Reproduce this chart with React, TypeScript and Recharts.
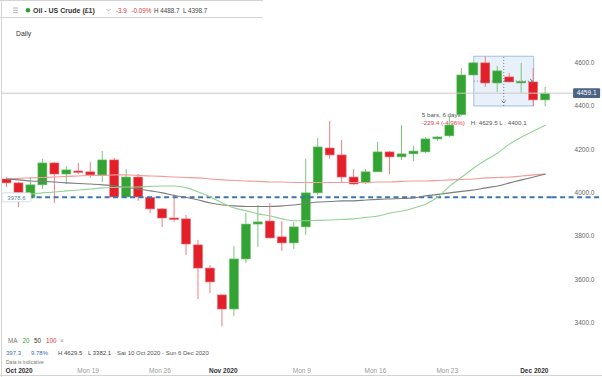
import React from 'react';
import { ComposedChart, Bar, Line, XAxis, YAxis, ReferenceLine, ReferenceArea } from 'recharts';

// daily candles, Sun-Fri sessions
const dates = [
  '2020-10-12', '2020-10-13', '2020-10-14', '2020-10-15', '2020-10-16', '2020-10-18',
  '2020-10-19', '2020-10-20', '2020-10-21', '2020-10-22', '2020-10-23', '2020-10-25',
  '2020-10-26', '2020-10-27', '2020-10-28', '2020-10-29', '2020-10-30', '2020-11-01',
  '2020-11-02', '2020-11-03', '2020-11-04', '2020-11-05', '2020-11-06', '2020-11-08',
  '2020-11-09', '2020-11-10', '2020-11-11', '2020-11-12', '2020-11-13', '2020-11-15',
  '2020-11-16', '2020-11-17', '2020-11-18', '2020-11-19', '2020-11-20', '2020-11-22',
  '2020-11-23', '2020-11-24', '2020-11-25', '2020-11-26', '2020-11-27', '2020-11-29',
  '2020-11-30', '2020-12-01', '2020-12-02', '2020-12-03',
];
const open = [
  4063, 4045, 3976, 4036, 4137, 4086, 4100, 4096, 4082, 4151, 3980, 4072, 3978, 3925, 3883, 3879,
  3759, 3652, 3528, 3463, 3694, 3855, 3869, 3796, 3768, 3842, 3999, 4206, 4174, 4072, 4045, 4096,
  4188, 4165, 4179, 4188, 4248, 4262, 4360, 4543, 4599, 4506, 4534, 4509, 4511, 4428,
];
const close = [
  4045, 3999, 4036, 4137, 4086, 4105, 4096, 4082, 4151, 3980, 4072, 3980, 3925, 3883, 3879, 3763,
  3652, 3588, 3463, 3694, 3855, 3865, 3791, 3768, 3842, 3999, 4211, 4174, 4072, 4040, 4096, 4188,
  4165, 4179, 4192, 4248, 4257, 4312, 4543, 4599, 4506, 4562, 4511, 4513, 4428, 4459.1,
];
const high = [
  4072, 4050, 4072, 4156, 4142, 4123, 4137, 4142, 4192, 4160, 4109, 4086, 3980, 3928, 3992, 3897,
  3782, 3666, 3530, 3754, 3906, 3943, 3952, 3869, 3865, 4156, 4252, 4331, 4243, 4109, 4109, 4234,
  4192, 4312, 4216, 4257, 4262, 4349, 4575, 4603, 4629.5, 4585, 4553, 4599, 4575, 4488.7,
];
const low = [
  4026, 3934, 3971, 4017, 3952, 4040, 4086, 4068, 4049, 3978, 3978, 3962, 3906, 3842, 3865, 3712,
  3509, 3537, 3382.1, 3431, 3676, 3749, 3788, 3731, 3740, 3805, 3989, 4156, 4045, 4036, 4040, 4096,
  4086, 4151, 4145, 4183, 4239, 4257, 4355, 4540, 4488, 4465, 4508, 4460, 4400.1, 4398.7,
];
const ma20 = [
  null, null, 3994, 3999, 4003, 4008, 4012, 4017, 4022, 4024, 4026, 4026, 4029, 4031, 4031, 4022,
  4003, 3980, 3952, 3929, 3916, 3902, 3892, 3879, 3870, 3870, 3872, 3874, 3876, 3879, 3886, 3892,
  3906, 3915, 3929, 3948, 3980, 4031, 4072, 4114, 4151, 4183, 4225, 4257, 4285, 4312,
];
const ma50 = [
  4063, 4059, 4054, 4052, 4049, 4045, 4042, 4040, 4036, 4031, 4024, 4017, 4008, 3999, 3987, 3978,
  3966, 3952, 3943, 3939, 3936, 3936, 3936, 3939, 3943, 3950, 3957, 3959, 3962, 3962, 3966, 3969,
  3971, 3973, 3976, 3985, 3992, 3999, 4006, 4012, 4022, 4031, 4045, 4059, 4072, 4086,
];
const ma100 = [
  4063, 4066, 4068, 4070, 4072, 4075, 4077, 4079, 4079, 4082, 4082, 4079, 4077, 4075, 4072, 4070,
  4068, 4063, 4059, 4056, 4054, 4052, 4049, 4049, 4047, 4047, 4047, 4047, 4047, 4047, 4047, 4049,
  4049, 4052, 4054, 4054, 4056, 4059, 4061, 4063, 4068, 4070, 4072, 4077, 4082, 4086,
];

const tickDates = ['2020-10-12', '2020-10-19', '2020-10-26', '2020-11-01', '2020-11-09', '2020-11-16', '2020-11-23', '2020-12-01'];
const tickLabels = ['Oct 2020', 'Mon 19', 'Mon 26', 'Nov 2020', 'Mon 9', 'Mon 16', 'Mon 23', 'Dec 2020'];
const yTicks = [3400, 3600, 3800, 4000, 4200, 4400, 4600];

const lastPrice = 4459.1;
const levelLine = 3978.6;
const measureFrom = '2020-11-26';
const measureTo = '2020-12-02';
const measureHigh = 4629.5;
const measureLow = 4400.1;

const GREEN = '#33a333';
const RED = '#e3202a';
const FONT = '"Liberation Sans", Arial, sans-serif';

const data = dates.map((d, i) => ({
  i,
  date: d,
  open: open[i],
  high: high[i],
  low: low[i],
  close: close[i],
  range: [low[i], high[i]],
  ma20: ma20[i],
  ma50: ma50[i],
  ma100: ma100[i],
}));

const tickIdx = tickDates.map((d) => dates.indexOf(d));
const boxX1 = dates.indexOf(measureFrom);
const boxX2 = dates.indexOf(measureTo);
const boxMidX = (boxX1 + boxX2) / 2;
const boxMidY = (measureHigh + measureLow) / 2;
const boxChange = measureLow - measureHigh;
const boxPct = (boxChange / measureHigh) * 100;
const boxDays = Math.round((Date.parse(measureTo) - Date.parse(measureFrom)) / 86400000);

function Candle(props: any) {
  const { x, y, width, height, payload } = props;
  if (payload == null || height == null) return null;
  const top = Math.min(y, y + height);
  const h = Math.abs(height);
  const { open: o, close: c, high: hi, low: lo } = payload;
  const up = c >= o;
  const k = h / (hi - lo);
  const bodyTop = top + (hi - Math.max(o, c)) * k;
  const bodyH = Math.max(Math.abs(o - c) * k, 1.5);
  const cx = x + width / 2;
  return (
    <g>
      <line x1={cx} x2={cx} y1={top} y2={top + h} stroke={up ? '#7cc57c' : '#ef7d82'} strokeWidth={1} />
      <rect x={x} y={bodyTop} width={width} height={bodyH} fill={up ? GREEN : RED} stroke={up ? '#6fc06f' : '#ee6f75'} strokeWidth={0.6} />
    </g>
  );
}

function DateTick({ x, y, payload }: any) {
  const label = tickLabels[tickIdx.indexOf(payload.value)];
  if (!label) return null;
  const month = !label.startsWith('Mon');
  return (
    <text x={x - 1.5} y={y + 7} fontSize={6.5} fontFamily={FONT} fill={month ? '#333' : '#9a9a9a'} fontWeight={month ? 700 : 400}>
      {label}
    </text>
  );
}

export default function App() {
  return (
    <div style={{ position: 'absolute', left: 0, top: 0, width: 602, height: 377, background: '#fff' }}>
      <ComposedChart width={602} height={377} data={data} margin={{ top: 18, right: 0, bottom: 0, left: 1 }}>
        <XAxis
          dataKey="i"
          type="number"
          domain={[-0.5, dates.length - 0.5]}
          allowDataOverflow
          ticks={tickIdx}
          interval={0}
          tick={<DateTick />}
          tickLine={false}
          axisLine={false}
          tickSize={0}
          tickMargin={0}
          height={11}
        />
        <YAxis
          orientation="right"
          domain={[3200, 4806]}
          allowDataOverflow
          ticks={yTicks}
          interval={0}
          tickFormatter={(v: number) => v.toFixed(1)}
          tick={{ fontSize: 6.5, fill: '#666', fontFamily: FONT }}
          tickLine={false}
          axisLine={false}
          tickSize={0}
          tickMargin={23}
          width={50.4}
        />
        <ReferenceLine
          y={levelLine}
          stroke="#3f74b3"
          strokeWidth={2}
          strokeDasharray="5 3.5"
          label={(p: any) => {
            const vb = p.viewBox;
            return (
              <g>
                <line x1={vb.x + vb.width} x2={602} y1={vb.y} y2={vb.y} stroke="#3f74b3" strokeWidth={2} strokeDasharray="5 3.5" />
                <rect x={vb.x + 1} y={vb.y - 4.5} width={29} height={9} fill="#fff" stroke="#cdd6e2" strokeWidth={0.8} rx={1} />
                <text x={vb.x + 15.5} y={vb.y + 2.3} fontSize={6} fontFamily={FONT} fill="#5b7fa8" textAnchor="middle">
                  {levelLine.toFixed(1)}
                </text>
              </g>
            );
          }}
        />
        <Line dataKey="ma100" type="monotone" stroke="#f29a9a" strokeWidth={1.1} dot={false} isAnimationActive={false} />
        <Line dataKey="ma50" type="monotone" stroke="#7c7c7c" strokeWidth={1.1} dot={false} isAnimationActive={false} />
        <Line dataKey="ma20" type="monotone" stroke="#93d393" strokeWidth={1.1} dot={false} isAnimationActive={false} connectNulls={false} />
        <ReferenceLine
          y={lastPrice}
          stroke="#c9c9c9"
          strokeWidth={1}
          label={(p: any) => {
            const vb = p.viewBox;
            const right = vb.x + vb.width;
            return (
              <g>
                <line x1={right} x2={right + 21.5} y1={vb.y} y2={vb.y} stroke="#c9c9c9" strokeWidth={1} />
                <rect x={right + 21.5} y={vb.y - 4.8} width={27} height={9.6} fill="#4b6483" rx={1} />
                <text x={right + 35} y={vb.y + 2.3} fontSize={6.5} fontFamily={FONT} fill="#fff" textAnchor="middle">
                  {lastPrice.toFixed(1)}
                </text>
              </g>
            );
          }}
        />
        <Bar dataKey="range" barSize={9} isAnimationActive={false} shape={(p: any) => <Candle {...p} />} />
        <ReferenceArea
          x1={boxX1}
          x2={boxX2}
          y1={measureLow}
          y2={measureHigh}
          fill="#bcd6ee"
          fillOpacity={0.35}
          stroke="#9dc0e2"
          strokeWidth={1}
          label={(p: any) => {
            const vb = p.viewBox;
            const bx = vb.x - 52;
            const by = vb.y + vb.height;
            return (
              <g fontFamily={FONT} fontSize={6.2}>
                <rect x={bx - 1} y={by + 4} width={50} height={21} fill="#fff" fillOpacity={0.6} />
                <text x={bx} y={by + 11} fill="#555">{`${boxX2 - boxX1} bars, ${boxDays} days`}</text>
                <text x={bx} y={by + 19} fill="#e0454a">{`${boxChange.toFixed(1)} (${boxPct.toFixed(2)}%)`}</text>
                <text x={bx + 49} y={by + 19} fill="#555">{`H: ${measureHigh.toFixed(1)} L : ${measureLow.toFixed(1)}`}</text>
              </g>
            );
          }}
        />
        <ReferenceLine
          segment={[{ x: boxMidX, y: measureLow }, { x: boxMidX, y: measureHigh }]}
          stroke="#556070"
          strokeWidth={0.8}
          strokeDasharray="1 2"
          label={(p: any) => {
            const vb = p.viewBox;
            const bx = vb.x;
            const by = vb.y + vb.height - 3;
            return <polyline points={`${bx - 2},${by - 2.5} ${bx},${by} ${bx + 2},${by - 2.5}`} fill="none" stroke="#556070" strokeWidth={0.8} />;
          }}
        />
        <ReferenceLine
          segment={[{ x: boxX1, y: boxMidY }, { x: boxX2, y: boxMidY }]}
          stroke="#556070"
          strokeWidth={0.8}
          strokeDasharray="1 2"
          label={(p: any) => {
            const vb = p.viewBox;
            const ex = vb.x + vb.width - 1;
            const ey = vb.y;
            return <polyline points={`${ex - 2.5},${ey - 2} ${ex},${ey} ${ex - 2.5},${ey + 2}`} fill="none" stroke="#556070" strokeWidth={0.8} />;
          }}
        />
      </ComposedChart>
      <svg width={602} height={377} style={{ position: 'absolute', left: 0, top: 0, pointerEvents: 'none' }} fontFamily={FONT}>
        <line x1={1.5} y1={0} x2={1.5} y2={377} stroke="#d4d4d4" />
        <line x1={0} y1={0.5} x2={263} y2={0.5} stroke="#d4d4d4" />
        <line x1={0} y1={17.5} x2={263} y2={17.5} stroke="#d4d4d4" />
        <line x1={0} y1={375.5} x2={602} y2={375.5} stroke="#d4d4d4" />
        <g stroke="#a0a0a0" strokeWidth={0.8}>
          <line x1={13} x2={18} y1={8} y2={8} />
          <line x1={13} x2={18} y1={10.3} y2={10.3} />
          <line x1={13} x2={18} y1={12.6} y2={12.6} />
        </g>
        <circle cx={28} cy={10.2} r={2.3} fill="#2ea02e" />
        <text x={33} y={12.6} fontSize={7} fontWeight={700} fill="#333">Oil - US Crude (£1)</text>
        <polyline points="106.5,9 108.5,11 110.5,9" fill="none" stroke="#aaa" strokeWidth={0.8} />
        <text x={116} y={12.5} fontSize={6.3} fill="#e0353b">-3.9</text>
        <text x={131.5} y={12.5} fontSize={6.3} fill="#e0353b">-0.09%</text>
        <text x={154} y={12.5} fontSize={6.3} fill="#444">H 4488.7</text>
        <text x={183} y={12.5} fontSize={6.3} fill="#444">L 4398.7</text>
        <text x={16} y={36.3} fontSize={6.8} fill="#333">Daily</text>
        <text x={8} y={343} fontSize={6.3} fill="#777">MA</text>
        <text x={22.5} y={343} fontSize={6.3} fill="#3ca53c">20</text>
        <text x={34} y={343} fontSize={6.3} fill="#333">50</text>
        <text x={46} y={343} fontSize={6.3} fill="#e0353b">100</text>
        <text x={60} y={343} fontSize={6.3} fill="#999">×</text>
        <text x={6} y={354.5} fontSize={6} fill="#3a6eb0">397.3</text>
        <text x={31} y={354.5} fontSize={6} fill="#3a6eb0">9.78%</text>
        <text x={58} y={354.5} fontSize={6} fill="#444">H 4629.5</text>
        <text x={88} y={354.5} fontSize={6} fill="#444">L 3382.1</text>
        <text x={117} y={354.5} fontSize={6} fill="#555">Sat 10 Oct 2020 - Sun 6 Dec 2020</text>
        <text x={6} y={363.5} fontSize={5} fill="#777">Data is indicative</text>
      </svg>
    </div>
  );
}
